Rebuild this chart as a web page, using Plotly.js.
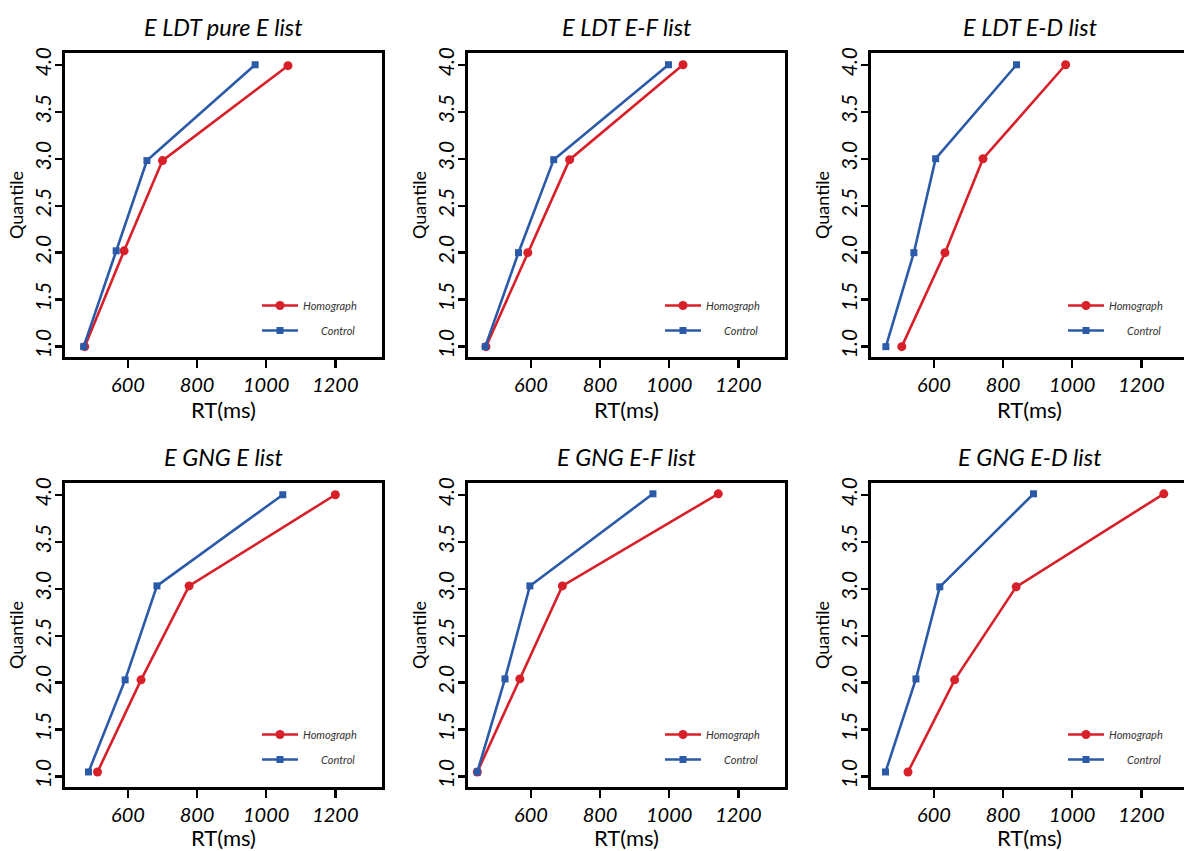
<!DOCTYPE html>
<html>
<head>
<meta charset="utf-8">
<script src="https://cdn.plot.ly/plotly-3.0.1.min.js"></script>
<style>
  html, body { margin: 0; padding: 0; overflow: hidden; background: #fff; }
  #chart { width: 1188px; height: 851px; }
</style>
</head>
<body>
<div id="chart"></div>
<script>
// ---- Data ----
const panelTitles = ["E LDT pure E list", "E LDT E-F list", "E LDT E-D list",
                     "E GNG E list", "E GNG E-F list", "E GNG E-D list"];
const seriesNames = ["Homograph", "Control"];

// Quantile positions of the plotted points
const ldtPureQHom = [1.0, 2.02, 2.98, 3.99];
const ldtPureQCtl = [1.0, 2.02, 2.98, 4.0];
const ldtEFQ      = [1.0, 2.0, 2.99, 4.0];
const ldtEDQ      = [1.0, 2.0, 3.0, 4.0];
const gngEQ       = [1.05, 2.03, 3.03, 4.0];
const gngEFQ      = [1.05, 2.04, 3.03, 4.01];
const gngEDQHom   = [1.05, 2.03, 3.02, 4.01];
const gngEDQCtl   = [1.05, 2.04, 3.02, 4.01];

// RT (ms) values
const ldtPureHom = [475, 589, 700, 1063];
const ldtPureCtl = [472, 566, 655, 968];
const ldtEFHom   = [470, 591, 712, 1040];
const ldtEFCtl   = [468, 564, 666, 998];
const ldtEDHom   = [507, 632, 742, 981];
const ldtEDCtl   = [461, 542, 605, 839];
const gngEHom    = [512, 638, 777, 1200];
const gngECtl    = [486, 592, 684, 1048];
const gngEFHom   = [445, 568, 691, 1142];
const gngEFCtl   = [445, 525, 597, 953];
const gngEDHom   = [525, 660, 838, 1265];
const gngEDCtl   = [460, 548, 617, 888];

const homX = [ldtPureHom, ldtEFHom, ldtEDHom, gngEHom, gngEFHom, gngEDHom];
const homY = [ldtPureQHom, ldtEFQ, ldtEDQ, gngEQ, gngEFQ, gngEDQHom];
const ctlX = [ldtPureCtl, ldtEFCtl, ldtEDCtl, gngECtl, gngEFCtl, gngEDCtl];
const ctlY = [ldtPureQCtl, ldtEFQ, ldtEDQ, gngEQ, gngEFQ, gngEDQCtl];

// ---- Styling / layout ----
const W = 1188, H = 851;
const RED = "#d7202a", BLUE = "#2b5aa8";
const FONT = "Lato, 'Open Sans', sans-serif";
const colLeft = [65, 468, 871];
const panelW = 317;
const rowTop = [53, 483];
const panelH = 304;
const titleY = [27, 457];
const legendMidY = [318, 747];

const traces = [];
const layout = {
  width: W, height: H,
  margin: {l: 0, r: 0, t: 0, b: 0},
  paper_bgcolor: "#fff", plot_bgcolor: "#fff",
  font: {family: FONT, color: "#000"},
  showlegend: true,
  annotations: []
};

for (let i = 0; i < 6; i++) {
  const n = i + 1;
  const col = i % 3, row = Math.floor(i / 3);
  const xa = "x" + (n === 1 ? "" : n), ya = "y" + (n === 1 ? "" : n);
  const leg = "legend" + (n === 1 ? "" : n);
  const x0 = colLeft[col] / W, x1 = (colLeft[col] + panelW) / W;
  const y1 = 1 - rowTop[row] / H, y0 = 1 - (rowTop[row] + panelH) / H;

  traces.push({
    type: "scatter", mode: "lines+markers", name: seriesNames[0],
    x: homX[i], y: homY[i], xaxis: xa, yaxis: ya, legend: leg, legendgroup: "h" + n,
    line: {color: RED, width: 2.6},
    marker: {color: RED, symbol: "circle", size: 9}
  });
  traces.push({
    type: "scatter", mode: "lines+markers", name: "\u00a0\u00a0\u00a0\u00a0\u00a0\u00a0\u00a0" + seriesNames[1],
    x: ctlX[i], y: ctlY[i], xaxis: xa, yaxis: ya, legend: leg, legendgroup: "c" + n,
    line: {color: BLUE, width: 2.6},
    marker: {color: BLUE, symbol: "square", size: 7}
  });

  const axCommon = {
    showline: true, mirror: true, linecolor: "#000", linewidth: 2.6,
    ticks: "outside", ticklen: 8, tickwidth: 2.4, tickcolor: "#000",
    showgrid: false, zeroline: false, fixedrange: true
  };
  layout["xaxis" + (n === 1 ? "" : n)] = Object.assign({}, axCommon, {
    domain: [x0, x1], anchor: ya,
    range: [418, 1335], tick0: 0, dtick: 200,
    tickfont: {family: FONT, size: 20, style: "italic", color: "#000"},
    title: {text: "RT(ms)", font: {family: FONT, size: 22, color: "#000"}, standoff: 2}
  });
  layout["yaxis" + (n === 1 ? "" : n)] = Object.assign({}, axCommon, {
    domain: [y0, y1], anchor: xa,
    range: [0.89, 4.125], tick0: 1, dtick: 0.5, tickformat: ".1f", tickangle: -90,
    ticklen: 7, ticklabelstandoff: -4,
    tickfont: {family: FONT, size: 21, style: "italic", color: "#000"},
    title: {text: "Quantile", font: {family: FONT, size: 18, color: "#000"}, standoff: 2}
  });
  layout[leg] = {
    x: (colLeft[col] + 198 - 6) / W, xanchor: "left",
    y: 1 - legendMidY[row] / H, yanchor: "middle",
    bgcolor: "rgba(0,0,0,0)", borderwidth: 0,
    itemwidth: 36,
    traceorder: "grouped", tracegroupgap: 6,
    font: {family: FONT, size: 11, style: "italic", color: "#333"}
  };
  layout.annotations.push({
    text: panelTitles[i], xref: "paper", yref: "paper",
    x: (colLeft[col] + panelW / 2) / W, y: 1 - titleY[row] / H,
    xanchor: "center", yanchor: "middle", showarrow: false,
    font: {family: FONT, size: 23.5, style: "italic", color: "#000"}
  });
}

Plotly.newPlot("chart", traces, layout, {displayModeBar: false, staticPlot: true});
</script>
</body>
</html>
